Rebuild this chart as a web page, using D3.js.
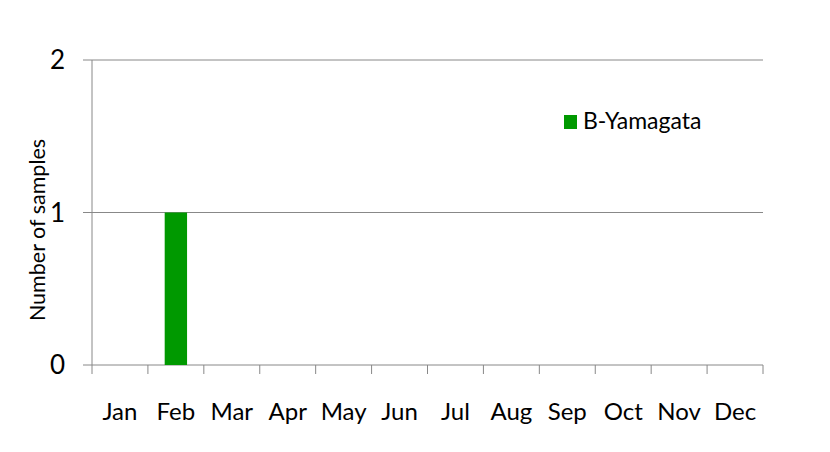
<!DOCTYPE html>
<html>
<head>
<meta charset="utf-8">
<script src="https://cdn.jsdelivr.net/npm/d3@7"></script>
<style>
  body { margin: 0; background: #fff; }
  text { font-family: Lato, "Open Sans", sans-serif; fill: #000; }
</style>
</head>
<body>
<script>
// données
const months = ["Jan", "Feb", "Mar", "Apr", "May", "Jun", "Jul", "Aug", "Sep", "Oct", "Nov", "Dec"]
const yamagata = [0, 1, 0, 0, 0, 0, 0, 0, 0, 0, 0, 0]
const yTicks = [0, 1, 2]
const seriesName = "B-Yamagata"

const width = 830, height = 452
const plotLeft = 92, plotRight = 763, plotTop = 60, plotBottom = 365

let svg = d3.select("body")
    .append("svg")
    .attr("width", width)
    .attr("height", height)

const x = d3.scaleBand()
    .domain(months)
    .range([plotLeft, plotRight])
    .paddingInner(0.6)
    .paddingOuter(0.3)

const y = d3.scaleLinear()
    .domain([0, 2])
    .range([plotBottom, plotTop])

// lignes de grille horizontales
svg.append("g")
    .selectAll("line")
    .data(yTicks)
    .enter()
    .append("line")
    .attr("x1", plotLeft - 9)
    .attr("x2", plotRight)
    .attr("y1", d => y(d))
    .attr("y2", d => y(d))
    .attr("stroke", "#888")
    .attr("stroke-width", 1)

// axe vertical
svg.append("line")
    .attr("x1", plotLeft).attr("x2", plotLeft)
    .attr("y1", plotTop).attr("y2", plotBottom)
    .attr("stroke", "#888")

// labels Y
svg.append("g")
    .selectAll("text")
    .data(yTicks)
    .enter()
    .append("text")
    .attr("x", 65)
    .attr("y", d => y(d) + 9)
    .attr("text-anchor", "end")
    .style("font-size", "26px")
    .text(d => d)

// ticks de l'axe X aux frontières des catégories
const step = (plotRight - plotLeft) / months.length
svg.append("g")
    .selectAll("line")
    .data(d3.range(months.length + 1))
    .enter()
    .append("line")
    .attr("x1", i => plotLeft + i * step)
    .attr("x2", i => plotLeft + i * step)
    .attr("y1", plotBottom)
    .attr("y2", plotBottom + 9)
    .attr("stroke", "#888")

// labels X
svg.append("g")
    .selectAll("text")
    .data(months)
    .enter()
    .append("text")
    .attr("x", d => x(d) + x.bandwidth() / 2)
    .attr("y", 420)
    .attr("text-anchor", "middle")
    .style("font-size", "24px")
    .text(d => d)

// barres
svg.append("g")
    .selectAll("rect")
    .data(yamagata)
    .enter()
    .append("rect")
    .attr("x", (d, i) => x(months[i]))
    .attr("y", d => y(d))
    .attr("width", x.bandwidth())
    .attr("height", d => plotBottom - y(d))
    .attr("fill", "#009900")

// titre axe Y
svg.append("text")
    .attr("transform", "translate(45,230) rotate(-90)")
    .attr("text-anchor", "middle")
    .style("font-size", "21.5px")
    .text("Number of samples")

// légende
svg.append("rect")
    .attr("x", 564).attr("y", 115)
    .attr("width", 13).attr("height", 14)
    .attr("fill", "#009900")
svg.append("text")
    .attr("x", 583).attr("y", 129)
    .style("font-size", "23px")
    .text(seriesName)
</script>
</body>
</html>
